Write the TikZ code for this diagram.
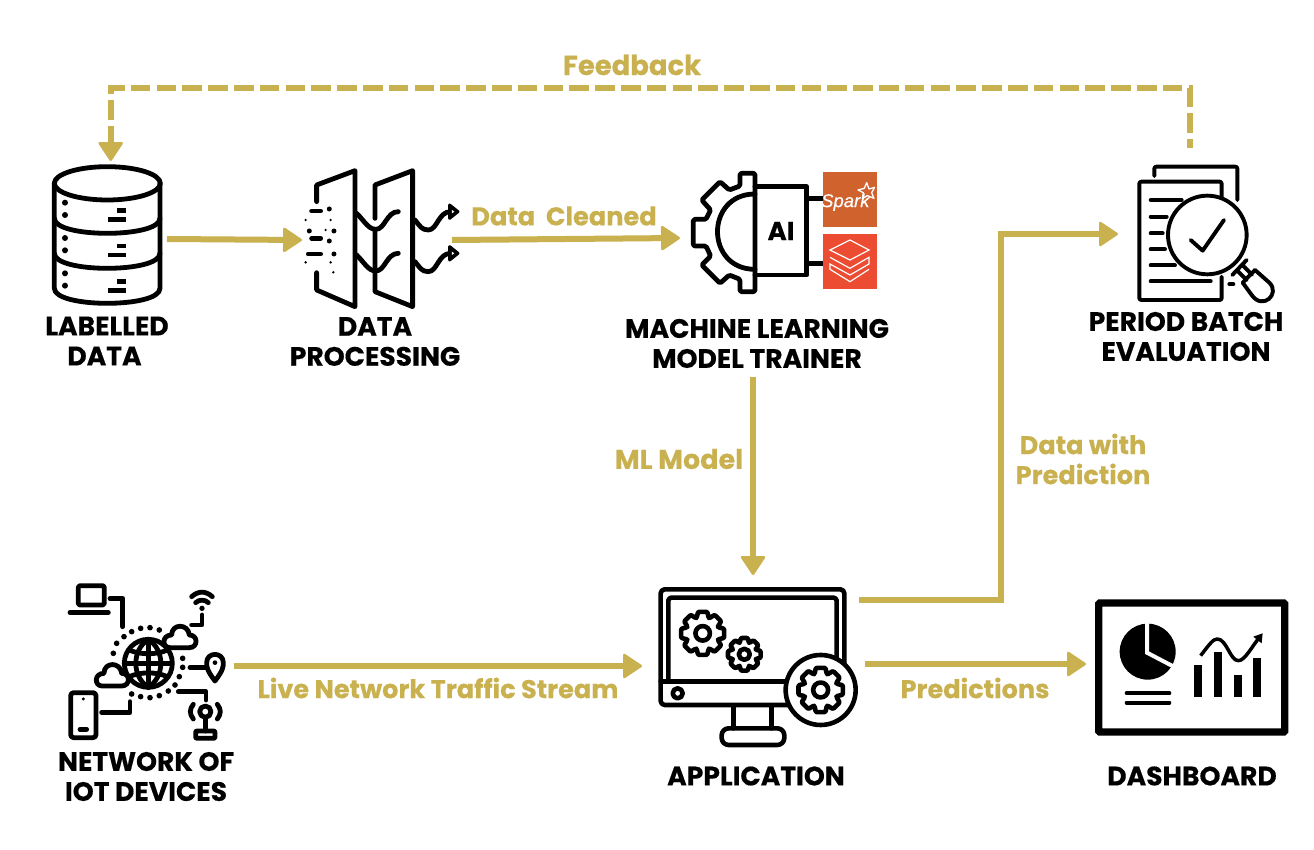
\documentclass[tikz,border=0pt]{standalone}
\usepackage{fontspec}
\setmainfont{Poppins}[BoldFeatures={FakeBold=0.35}]
\newfontfamily\sparkfont{Liberation Sans}[ItalicFeatures={FakeBold=0.25}]
\usetikzlibrary{arrows.meta}
\definecolor{gold}{HTML}{C9B14F}
\definecolor{sparkbg}{HTML}{D0622E}
\definecolor{brickbg}{HTML}{EC4C32}
\newlength\icw
\setlength\icw{4.8pt}
\tikzset{
  flow/.style={draw=gold,line width=6pt,-{Triangle[length=20pt,width=26pt,round,line width=2.5pt]}},
  fdash/.style={flow,dash pattern=on 19.5pt off 6.3pt,dash phase=10.5pt},
  head/.style={font=\fontsize{26.6}{30}\selectfont\bfseries,text=black,align=center,inner sep=0pt},
  lab/.style={font=\fontsize{25.6}{30}\selectfont\bfseries,text=gold,align=center,inner sep=0pt},
  anchorbox/.style={inner sep=0pt,outer sep=0pt,minimum width=#1},
  ico/.style={line width=\icw,line cap=round,line join=round,draw=black,fill=none},
}
\newcommand{\geartool}[3]{% centre x, y, radius in zoom units
  \begin{scope}[shift={(#1,#2)}]
    \draw[ico,fill=white,rounded corners=1pt] (-21:{0.76*#3})
      \foreach \a in {0,45,...,315}{ -- ({\a-21}:{0.76*#3}) -- ({\a-12}:{#3}) -- ({\a+12}:{#3}) -- ({\a+21}:{0.76*#3}) } -- cycle;
    \draw[ico] (0,0) circle[radius={0.33*#3}];
  \end{scope}}
\begin{document}
\begin{tikzpicture}[x=1pt,y=-1pt]
\useasboundingbox (0,0) rectangle (1314,850);
\fill[white] (0,0) rectangle (1314,850);

% invisible icon frames
\node[anchorbox=115pt,minimum height=140pt] (db) at (109.5,239) {};
\node[anchorbox=150pt,minimum height=130pt] (filter) at (377,240) {};
\node[anchorbox=200pt,minimum height=125pt] (ai) at (780,238) {};
\node[anchorbox=145pt,minimum height=145pt] (eval) at (1190.5,234) {};
\node[anchorbox=170pt,minimum height=160pt] (iot) at (149,666) {};
\node[anchorbox=222pt,minimum height=182pt] (app) at (753,666) {};
\node[anchorbox=200pt,minimum height=140pt] (dash) at (1186,664) {};

% text
\node[head] (tdb) at (107,341) {LABELLED\\DATA\kern5pt};
\node[head] (tfilter) at (375,341.5) {DATA\\PROCESSING};
\node[head] (ttrainer) at (757,343.5) {MACHINE LEARNING\\MODEL TRAINER};
\node[head] (teval) at (1186,336.5) {PERIOD BATCH\\EVALUATION};
\node[head] (tiot) at (146,776.5) {NETWORK OF\\IOT DEVICES};
\node[head] (tapp) at (756,776) {APPLICATION};
\node[head] (tdash) at (1192,776) {DASHBOARD};
\node[lab,font=\fontsize{27.4}{30}\selectfont\bfseries] (lfeed) at (632,65) {Feedback};
\node[lab] (lclean) at (564,216) {Data\ \ Cleaned};
\node[lab,font=\fontsize{27}{30}\selectfont\bfseries] (lml) at (679,459) {ML Model};
\node[lab] (llive) at (438,688) {Live Network Traffic Stream};
\node[lab] (lpred) at (1083,459) {Data with\\Prediction};
\node[lab] (lpreds) at (975,688) {Predictions};

% connector ends
\coordinate (evaltop) at (1189.5,148);
\coordinate (fbl) at (110.7,88.3);
\coordinate (dbtop) at (110.7,161);
\coordinate (mlout) at (753,377);
\coordinate (appout) at (859,600);
\coordinate (elbow) at (1001,234);
\coordinate (predout) at (865,664);

\draw[flow] (db.east) -- (filter.west);
\draw[flow] (filter.east) -- (ai.west);
\draw[flow] (mlout) -- (app.north);
\draw[flow] (iot.east) -- (app.west);
\draw[flow] (appout) -| (elbow) -- (eval.west);
\draw[flow] (predout) -- (dash.west);
\draw[fdash] (evaltop) |- (fbl) -- (dbtop);

% ---- database
\begin{scope}[shift={(30,150)},x=0.3333pt,y=-0.3333pt]
  \draw[ico] (232,100) circle[x radius=159,y radius=50];
  \draw[ico] (73,100) -- (73,415) .. controls (73,475) and (390,475) .. (390,415) -- (390,100);
  \draw[ico] (73,205) .. controls (73,265) and (390,265) .. (390,205);
  \draw[ico] (73,310) .. controls (73,370) and (390,370) .. (390,310);
  \foreach \d in {0,106,212}{
    \fill (105,158+\d) circle[radius=9];
    \fill (105,195+\d) circle[radius=9];
    \draw[ico,line cap=butt] (233,209+\d) -- (288,209+\d);
    \draw[ico,line cap=butt] (262,182+\d) -- (288,182+\d);
  }
\end{scope}

% ---- filter
\begin{scope}[shift={(30,150)},x=0.3333pt,y=-0.3333pt]
  \draw[ico] (860,155) -- (860,105) -- (975,62) -- (975,470) -- (860,420) -- (860,368);
  \draw[ico] (1035,205) -- (1035,105) -- (1148,62) -- (1148,470) -- (1035,425) -- (1035,240);
  \foreach \d in {0,125}{
    \draw[ico] (980,190+\d) .. controls (1005,215+\d) and (1015,238+\d) .. (1038,238+\d) .. controls (1065,238+\d) and (1070,185+\d) .. (1105,185+\d);
    \draw[ico] (1155,210+\d) .. controls (1170,228+\d) and (1175,240+\d) .. (1195,240+\d) .. controls (1222,240+\d) and (1225,185+\d) .. (1262,185+\d);
    \fill[line join=round,draw=black,line width=3pt] (1259,165+\d) -- (1284,185+\d) -- (1259,205+\d) -- cycle;
    \fill[white] (1266,180+\d) -- (1273,185+\d) -- (1266,190+\d) -- cycle;
  }
  \draw[ico] (845,183) -- (872,183);
  \draw[ico] (845,265) -- (872,265);
  \draw[ico] (835,312) -- (872,312);
  \foreach \p in {(898,177),(838,243),(898,273),(912,243),(912,312)} \fill \p circle[radius=7.5];
  \foreach \p in {(827,210),(902,210),(887,240),(827,337),(902,337),(910,367)} \fill \p circle[radius=4];
\end{scope}

% ---- AI gear
\begin{scope}[shift={(670,150)},x=0.3333pt,y=-0.3333pt]
  \draw[ico,rounded corners=1.5pt] (255,70) -- (210,70) -- (210,108) -- (178,120) -- (150,95) -- (95,150) -- (122,180) -- (108,208) -- (70,208) -- (70,288) -- (108,288) -- (122,318) -- (95,345) -- (150,400) -- (178,375) -- (210,388) -- (210,425) -- (255,425) -- cycle;
  \draw[ico] (255,132) .. controls (105,132) and (105,358) .. (255,358);
  \draw[ico] (255,110) -- (410,110) -- (410,375) -- (255,375);
  \draw[ico] (410,145) -- (460,145);
  \draw[ico] (410,340) -- (460,340);
  \node[font=\fontsize{26}{28}\selectfont\bfseries,inner sep=0pt] (ailabel) at (333,243) {AI};
  \fill[sparkbg] (458,65) rectangle (622,230);
  \fill[brickbg] (458,252) rectangle (622,416);
  \node[font=\sparkfont\itshape\fontsize{18.5}{20}\selectfont,text=white,inner sep=0pt] (sparklabel) at (526,157) {Spark};
  \draw[white,line width=1.3pt,line join=round] (590,98) -- (597,117) -- (614,112) -- (605,128) -- (612,145) -- (592,137) -- (577,146) -- (580,128) -- (564,120) -- (583,115) -- cycle;
  \draw[white,line width=1.2pt,line join=miter] (480,300) -- (540,270) -- (597,300) -- (540,330) -- cycle;
  \draw[white,line width=1.2pt,line join=miter] (480,322) -- (540,355) -- (597,322) -- (597,342) -- (540,375) -- (480,342) -- (480,358) -- (540,395) -- (597,358);
\end{scope}

% ---- evaluation
\setlength\icw{3.9pt}
\begin{scope}[shift={(1120,150)},x=0.3333pt,y=-0.3333pt]
  \draw[ico,rounded corners=2pt] (103,78) -- (103,50) -- (352,50) -- (352,150);
  \draw[ico,rounded corners=2pt] (305,140) -- (305,95) -- (58,95) -- (58,450) -- (305,450) -- (305,380);
  \draw[ico] (92,150) -- (185,150);
  \draw[ico] (92,200) -- (140,200);
  \draw[ico] (92,250) -- (128,250);
  \draw[ico] (92,298) -- (135,298);
  \draw[ico] (92,346) -- (165,346);
  \draw[ico] (92,394) -- (272,394);
  \draw[ico] (328,403) -- (340,403);
  \draw[ico,fill=white] (262,255) circle[radius=118];
  \draw[ico] (212,270) -- (248,302) -- (312,210);
  \draw[ico] (337,375) -- (380,330);
  \draw[ico] (351,361) -- (380,390);
  \draw[ico] (367,345) -- (396,374);
  \draw[ico] (368,398) -- (405,360);
  \draw[ico] (405,360) -- (448,398) .. controls (482,432) and (428,482) .. (395,435) -- (368,398);
\end{scope}

% ---- IoT network
\setlength\icw{4.8pt}
\begin{scope}[shift={(50,570)},x=0.3333pt,y=-0.3333pt]
  \draw[ico,rounded corners=1.5pt] (85,105) -- (85,47) -- (163,47) -- (163,105) -- cycle;
  \draw[ico] (60,128) -- (175,128);
  \draw[ico] (180,85) -- (218,85) -- (218,170);
  \draw[ico] (425,80) .. controls (445,62) and (467,62) .. (487,80);
  \draw[ico] (437,98) .. controls (447,88) and (465,88) .. (475,98);
  \fill (456,115) circle[radius=8];
  \draw[ico] (456,135) -- (456,165) -- (425,165);
  \foreach \p in {(190,250),(200,220),(222,200),(245,185),(272,175),(300,173),(328,180),(398,265),(398,292),(388,320),(375,345),(355,363),(328,377),(300,383),(272,380),(245,372)}
    \fill \p circle[radius=8.5];
  \draw[ico] (295,280) circle[radius=72];
  \draw[ico] (295,208) .. controls (245,240) and (245,320) .. (295,352);
  \draw[ico] (295,208) .. controls (345,240) and (345,320) .. (295,352);
  \draw[ico] (295,208) -- (295,352);
  \draw[ico] (225,280) -- (365,280);
  \draw[ico] (238,240) .. controls (270,255) and (320,255) .. (352,240);
  \draw[ico] (238,320) .. controls (270,305) and (320,305) .. (352,320);
  \draw[ico,fill=white] (360,233) .. controls (335,233) and (335,195) .. (365,195) .. controls (365,160) and (415,160) .. (418,195) .. controls (445,195) and (445,233) .. (418,233) -- cycle;
  \draw[ico,fill=white] (157,348) .. controls (132,348) and (132,310) .. (162,310) .. controls (162,275) and (212,275) .. (215,310) .. controls (242,310) and (242,348) .. (215,348) -- cycle;
  \draw[ico] (420,293) -- (470,293);
  \draw[ico] (495,333) .. controls (470,300) and (470,290) .. (470,278) .. controls (470,245) and (520,245) .. (520,278) .. controls (520,290) and (520,300) .. (495,333) -- cycle;
  \fill (495,278) circle[radius=7];
  \draw[ico] (385,365) -- (468,365) -- (468,390);
  \draw[ico] (466,425) circle[radius=17];
  \draw[ico] (430,403) .. controls (418,418) and (418,432) .. (430,447);
  \draw[ico] (502,403) .. controls (514,418) and (514,432) .. (502,447);
  \draw[ico] (466,442) -- (466,483);
  \draw[ico,rounded corners=1pt] (437,483) rectangle (495,505);
  \draw[ico,rounded corners=3pt] (62,368) rectangle (138,503);
  \fill (100,387) circle[radius=5];
  \draw[ico] (90,478) -- (110,478);
  \draw[ico] (155,427) -- (240,427) -- (240,395);
\end{scope}

% ---- application
\setlength\icw{4.6pt}
\begin{scope}[shift={(650,575)},x=0.3333pt,y=-0.3333pt]
  \draw[ico,rounded corners=4pt] (32,43) rectangle (583,390);
  \draw[ico,rounded corners=3pt] (55,320) -- (55,68) -- (560,68) -- (560,320);
  \draw[ico] (32,320) -- (583,320);
  \draw[ico] (83,355) circle[radius=15];
  \draw[ico] (250,392) -- (250,460);
  \draw[ico] (365,392) -- (365,460);
  \draw[ico,rounded corners=7pt] (215,460) rectangle (403,510);
  \geartool{158}{175}{66}
  \geartool{283}{238}{50}
  \draw[ico,fill=white] (512,345) circle[radius=105];
  \geartool{512}{345}{68}
\end{scope}

% ---- dashboard
\begin{scope}[shift={(1085,590)},x=0.3333pt,y=-0.3333pt]
  \draw[line width=7.3pt,rounded corners=1pt] (41,39) rectangle (599,426);
  \fill (188,185) circle[radius=84];
  \draw[white,line width=4pt] (186,95) -- (186,188) -- (270,232);
  \draw[line width=4pt,line cap=round] (125,310) -- (253,310);
  \draw[line width=4pt,line cap=round] (125,338) -- (253,338);
  \fill (328,225) rectangle (352,322);
  \fill (387,187) rectangle (411,322);
  \fill (446,255) rectangle (470,322);
  \fill (504,203) rectangle (528,322);
  \draw[line width=3.5pt,line join=round] (347,197) .. controls (375,160) and (385,147) .. (397,147) .. controls (425,147) and (435,212) .. (460,212) .. controls (480,212) and (500,170) .. (525,140);
  \fill (533,130) -- (530,160) -- (505,140) -- cycle;
\end{scope}
\end{tikzpicture}
\end{document}
